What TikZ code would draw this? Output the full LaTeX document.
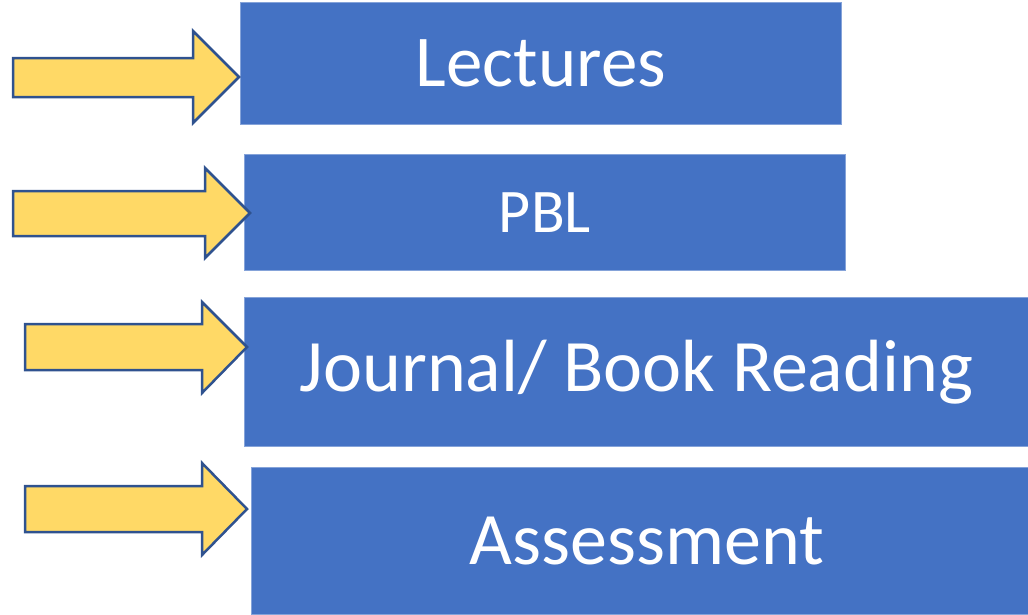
\documentclass[tikz,border=0pt]{standalone}
\usepackage{fontspec}
\setmainfont{Carlito}
\definecolor{boxblue}{HTML}{4472C4}
\definecolor{arrowyellow}{HTML}{FFD966}
\definecolor{arrowedge}{HTML}{2F528F}

\begin{document}
\begin{tikzpicture}[x=1pt,y=-1pt,
	box/.style={fill=boxblue, draw=boxblue!65!white, line width=0.8pt, inner sep=0pt, text=white, anchor=north west},
	pointer/.style={fill=arrowyellow, draw=arrowedge, line width=2.5pt, line join=miter}]

	\useasboundingbox (0,0) rectangle (1028,614);

	% blue boxes
	\node[box, minimum width=601pt, minimum height=122pt] (lectures) at (240,2) {\fontsize{73}{80}\selectfont Lectures};
	\node[box, minimum width=601pt, minimum height=116pt] (pbl) at (244,154) {\fontsize{62}{70}\selectfont PBL};
	\node[box, minimum width=784pt, minimum height=149pt] (reading) at (244,297) {\fontsize{74}{80}\selectfont Journal/ Book Reading};
	\node[box, minimum width=777pt, minimum height=147pt] (assessment) at (251,467) {\fontsize{74}{80}\selectfont\hspace*{14pt}Assessment};

	% yellow arrows
	\draw[pointer] (13,58) -- (193,58) -- (193,31) -- (239,77) -- (193,123) -- (193,97) -- (13,97) -- cycle;
	\draw[pointer] (13,191) -- (205,191) -- (205,168) -- (250,213) -- (205,258) -- (205,236) -- (13,236) -- cycle;
	\draw[pointer] (25,324) -- (202,324) -- (202,302) -- (247,347) -- (202,393) -- (202,370) -- (25,370) -- cycle;
	\draw[pointer] (25,486) -- (202,486) -- (202,463) -- (247,509) -- (202,555) -- (202,532) -- (25,532) -- cycle;

\end{tikzpicture}
\end{document}
